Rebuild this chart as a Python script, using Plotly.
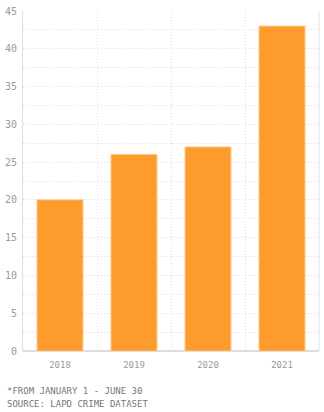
import plotly.graph_objects as go

years = ["2018", "2019", "2020", "2021"]
counts = [20, 26, 27, 43]
y_ticks = [0, 5, 10, 15, 20, 25, 30, 35, 40, 45]
notes = ["*FROM JANUARY 1 - JUNE 30", "SOURCE: LAPD CRIME DATASET"]

fig = go.Figure(go.Bar(
    x=years, y=counts,
    marker=dict(color="#fd9b2c", line=dict(color="#ffc27a", width=1)),
    width=0.62,
    hoverinfo="skip",
))

fnt = "DejaVu Sans Mono, Liberation Mono, monospace"
dotted = "1px,2px"
fig.update_layout(
    width=324, height=412,
    margin=dict(l=20, r=5, t=6, b=61),
    paper_bgcolor="white", plot_bgcolor="white",
    showlegend=False,
    font=dict(family=fnt, size=9, color="#999999"),
    xaxis=dict(
        type="category", tickson="boundaries", showgrid=True,
        gridcolor="#dcdcdc", griddash=dotted, gridwidth=1,
        ticks="", tickfont=dict(size=9, color="#9a9a9a"),
        ticklabelstandoff=7,
        showline=False, zeroline=False, mirror=False,
    ),
    yaxis=dict(
        range=[0, 45], tickvals=y_ticks, showgrid=True,
        gridcolor="#dcdcdc", griddash=dotted, gridwidth=1,
        minor=dict(dtick=2.5, tick0=0, showgrid=True, gridcolor="#dcdcdc", griddash=dotted),
        showline=True, linecolor="#dddddd", linewidth=1,
        zeroline=True, zerolinecolor="#dddddd",
        ticks="", tickfont=dict(size=10, color="#9a9a9a"),
        ticklabelstandoff=3, ticklabeloverflow="allow",
    ),
)
fig.add_shape(type="line", xref="paper", yref="paper", x0=1, x1=1, y0=0, y1=1,
              line=dict(color="#e2e2e2", width=1))
for i, t in enumerate(notes):
    fig.add_annotation(text=t, xref="paper", yref="paper", x=-18/299, xanchor="left",
                       y=-(392 - 351) / 345 - i * 13 / 345, yanchor="middle",
                       showarrow=False, font=dict(family=fnt, size=9, color="#777777"))
fig.write_html("out.html")
